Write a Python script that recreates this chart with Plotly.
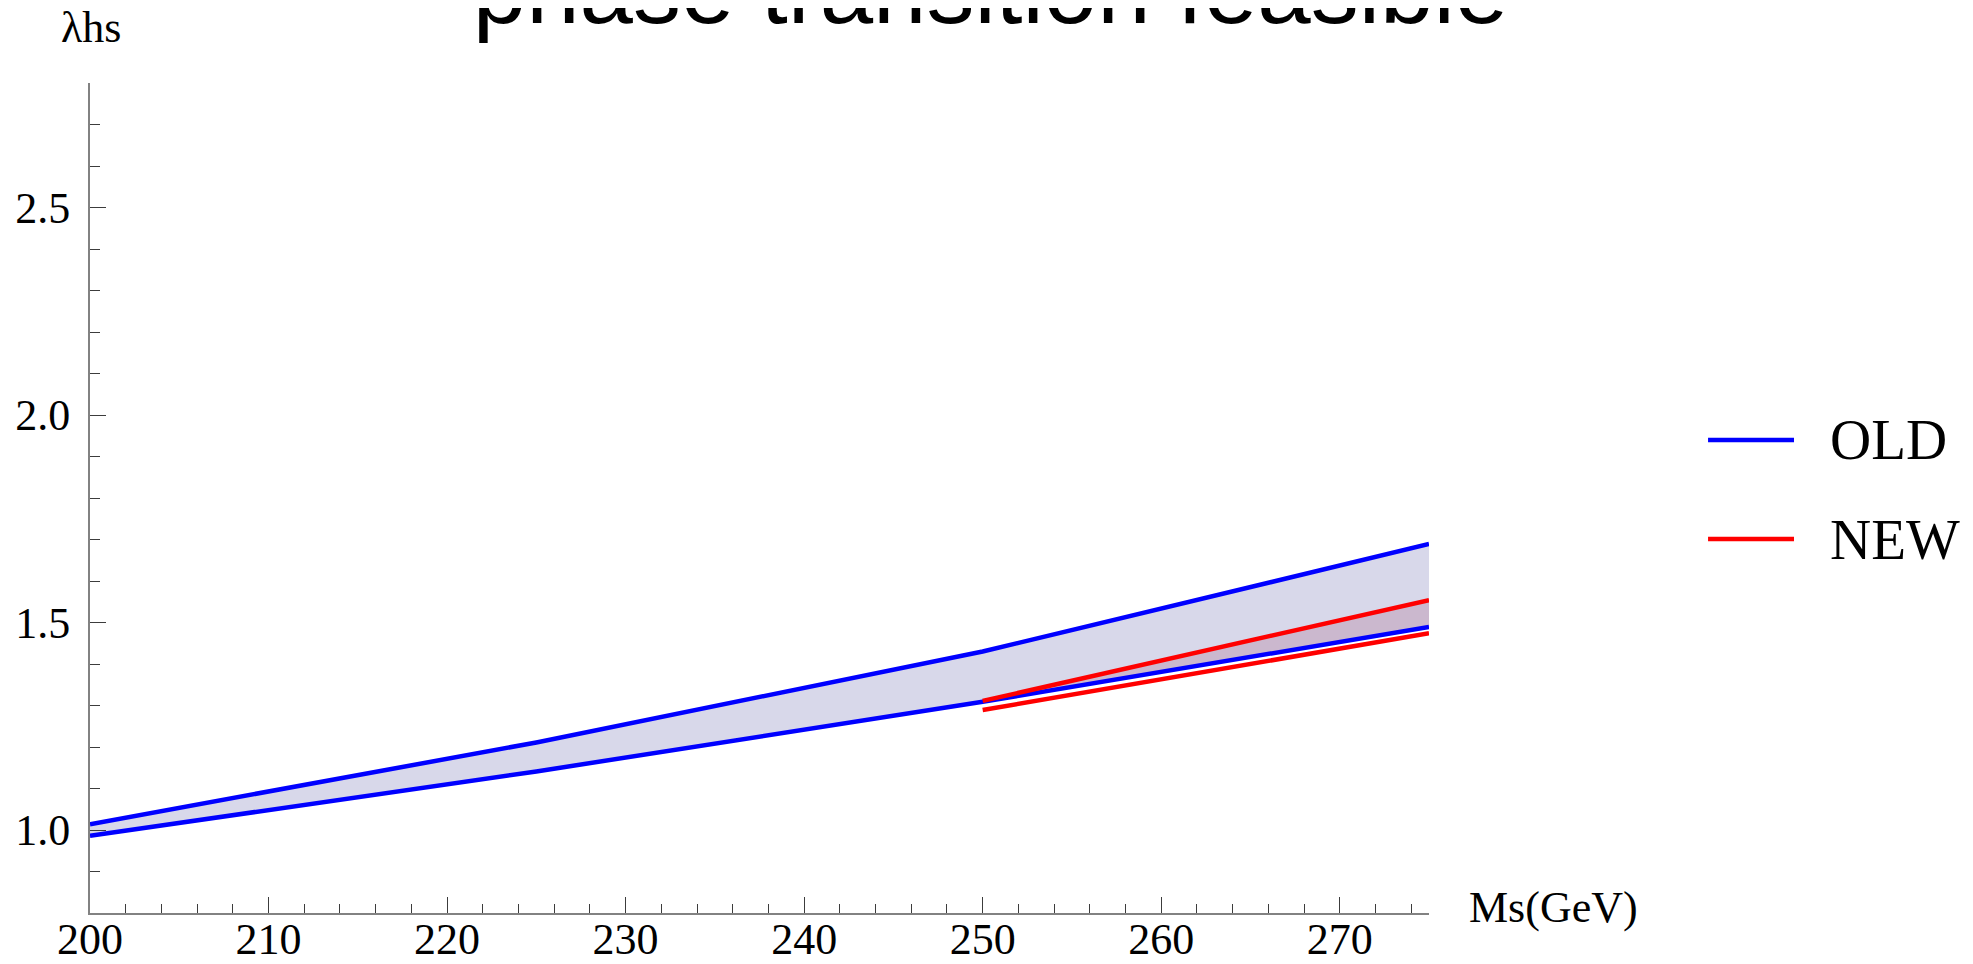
import plotly.graph_objects as go

# Data
ms_old = [200, 225, 250, 275]
old_upper = [1.014, 1.211, 1.430, 1.689]
old_lower = [0.986, 1.141, 1.309, 1.489]

ms_new = [250, 275]
new_upper = [1.311, 1.554]
new_lower = [1.289, 1.474]

x_ticks = [200, 210, 220, 230, 240, 250, 260, 270]
y_ticks = [1.0, 1.5, 2.0, 2.5]

BLUE = "rgb(0,0,255)"
RED = "rgb(255,0,0)"
SERIF = "Liberation Serif, Times New Roman, serif"
LW = 4.5

fig = go.Figure()

# Fill between OLD curves
fig.add_trace(go.Scatter(x=ms_old, y=old_lower, mode="lines", line=dict(width=0),
                         showlegend=False, hoverinfo="skip"))
fig.add_trace(go.Scatter(x=ms_old, y=old_upper, mode="lines", line=dict(width=0),
                         fill="tonexty", fillcolor="rgb(216,216,234)",
                         showlegend=False, hoverinfo="skip"))

# Overlap fill between NEW upper and OLD lower
idx = [ms_old.index(v) for v in ms_new]
fig.add_trace(go.Scatter(x=ms_new, y=[old_lower[i] for i in idx], mode="lines",
                         line=dict(width=0), showlegend=False, hoverinfo="skip"))
fig.add_trace(go.Scatter(x=ms_new, y=new_upper, mode="lines", line=dict(width=0),
                         fill="tonexty", fillcolor="rgb(203,184,206)",
                         showlegend=False, hoverinfo="skip"))

# Lines
fig.add_trace(go.Scatter(x=ms_old, y=old_upper, mode="lines", name="OLD",
                         line=dict(color=BLUE, width=LW), showlegend=False))
fig.add_trace(go.Scatter(x=ms_old, y=old_lower, mode="lines", name="OLD",
                         line=dict(color=BLUE, width=LW), showlegend=False))
fig.add_trace(go.Scatter(x=ms_new, y=new_upper, mode="lines", name="NEW",
                         line=dict(color=RED, width=LW), showlegend=False))
fig.add_trace(go.Scatter(x=ms_new, y=new_lower, mode="lines", name="NEW",
                         line=dict(color=RED, width=LW), showlegend=False))

axis_common = dict(
    showgrid=False, zeroline=False, showline=True, linecolor="rgb(130,130,130)",
    linewidth=2, ticks="inside", ticklen=16, tickwidth=1, tickcolor="rgb(60,60,60)",
    tickfont=dict(family=SERIF, size=44, color="black"), automargin=False,
)

fig.update_xaxes(range=[200, 275], tickmode="array", tickvals=x_ticks,
                 ticktext=[str(v) for v in x_ticks],
                 minor=dict(dtick=2, tick0=200, ticks="inside", ticklen=9,
                            tickwidth=1, tickcolor="rgb(60,60,60)"),
                 ticklabelstandoff=-14,
                 **axis_common)
fig.update_yaxes(range=[0.8, 2.8], tickmode="array", tickvals=y_ticks,
                 ticktext=[f"{v:.1f}" for v in y_ticks],
                 minor=dict(dtick=0.1, tick0=0.8, ticks="inside", ticklen=10,
                            tickwidth=1, tickcolor="rgb(60,60,60)"),
                 ticklabelstandoff=9,
                 **axis_common)

# Axis labels
fig.add_annotation(text="λhs", xref="paper", yref="paper", x=0.001, y=1.0663,
                   xanchor="center", yanchor="middle", showarrow=False,
                   font=dict(family=SERIF, size=44, color="black"))
fig.add_annotation(text="Ms(GeV)", xref="paper", yref="paper", x=1.0284, y=0.007,
                   xanchor="left", yanchor="middle", showarrow=False,
                   font=dict(family=SERIF, size=44, color="black"))

# Legend
legend_items = [("OLD", BLUE, 0.5699), ("NEW", RED, 0.4506)]
for name, col, yy in legend_items:
    fig.add_shape(type="line", xref="paper", yref="paper", x0=1.2084, x1=1.2726,
                  y0=yy, y1=yy, line=dict(color=col, width=LW))
    fig.add_annotation(text=name, xref="paper", yref="paper", x=1.2980, y=yy,
                       xanchor="left", yanchor="middle", showarrow=False,
                       font=dict(family=SERIF, size=57, color="black"))

# page body has an 8px margin: figure is 1965x956 so it fits the window
W, H = 1965, 956
fig.update_layout(
    width=W, height=H,
    margin=dict(l=82, r=544, t=75, b=51, autoexpand=False),
    paper_bgcolor="white", plot_bgcolor="white",
    showlegend=False,
    title=dict(text="phase transition feasible", x=0.5, xanchor="center",
               xref="container", yref="container", y=1 - 15 / H, yanchor="bottom",
               font=dict(family="Liberation Sans, Arial, sans-serif", size=96,
                         color="black", weight=300)),
)

fig.write_html("out.html")
